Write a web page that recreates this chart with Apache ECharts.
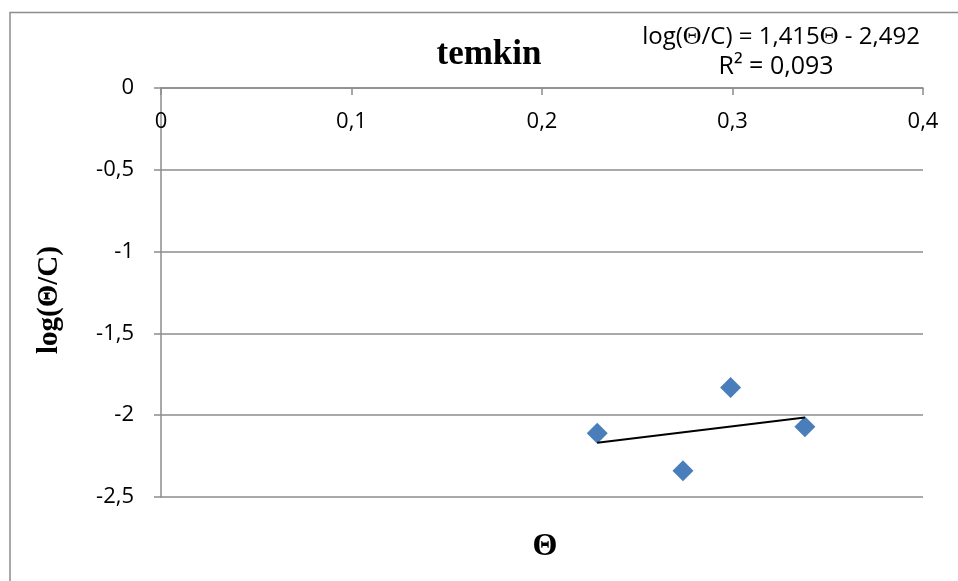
<!DOCTYPE html>
<html>
<head>
<meta charset="utf-8">
<title>temkin</title>
<script src="https://cdn.jsdelivr.net/npm/echarts@6/dist/echarts.min.js"></script>
<style>
  html, body { margin: 0; padding: 0; background: #fff; }
  #chart { width: 958px; height: 581px; }
</style>
</head>
<body>
<div id="chart"></div>
<script>
// 数据点 (Θ, log(Θ/C))
const thetaValues = [0.229, 0.274, 0.299, 0.338]
const logValues = [-2.11, -2.34, -1.83, -2.07]
// 趋势线系数, 取自图上的方程
const trendSlope = 1.415
const trendIntercept = -2.492
const xTicks = [0, 0.1, 0.2, 0.3, 0.4]
const yTicks = [-2.5, -2, -1.5, -1, -0.5, 0]

const gray = '#8c8c8c'
const comma = (v) => String(Number(v.toFixed(2))).replace('.', ',')

const points = thetaValues.map((x, i) => [x, logValues[i]])
const xMin = Math.min(...thetaValues)
const xMax = Math.max(...thetaValues)
const trend = [
  [xMin, trendSlope * xMin + trendIntercept],
  [xMax, trendSlope * xMax + trendIntercept]
]

const myChart = echarts.init(document.getElementById('chart'))

const option = {
  animation: false,
  grid: { left: 161, right: 35, top: 88, bottom: 84 },
  xAxis: {
    type: 'value',
    position: 'top',
    min: xTicks[0],
    max: xTicks[xTicks.length - 1],
    interval: 0.1,
    axisLine: { show: true, onZero: false, lineStyle: { color: gray, width: 1.5 } },
    axisTick: { show: true, inside: true, length: 7, lineStyle: { color: gray, width: 1.5 } },
    axisLabel: {
      inside: true,
      margin: 23,
      fontFamily: 'Open Sans',
      fontSize: 22,
      color: '#000',
      formatter: comma
    },
    splitLine: { show: false }
  },
  yAxis: {
    type: 'value',
    min: yTicks[0],
    max: yTicks[yTicks.length - 1],
    interval: 0.5,
    axisLine: { show: true, onZero: false, lineStyle: { color: gray, width: 1.5 } },
    axisTick: { show: true, length: 7, lineStyle: { color: gray, width: 1.5 } },
    axisLabel: {
      margin: 27,
      fontFamily: 'Open Sans',
      fontSize: 22,
      color: '#000',
      formatter: comma
    },
    splitLine: { show: true, lineStyle: { color: gray, width: 1.5 } }
  },
  series: [
    {
      type: 'scatter',
      symbol: 'diamond',
      symbolSize: 21,
      itemStyle: { color: '#4A7EBB', opacity: 1 },
      data: points,
      z: 3
    },
    {
      type: 'line',
      symbol: 'none',
      lineStyle: { color: '#000', width: 2 },
      data: trend,
      z: 4
    }
  ],
  graphic: [
    // 外框
    {
      type: 'rect',
      shape: { x: 10, y: 12.5, width: 1000, height: 700 },
      style: { fill: 'none', stroke: gray, lineWidth: 1.5 },
      silent: true
    },
    // 标题
    {
      type: 'text',
      x: 489,
      y: 55,
      style: {
        text: 'temkin',
        font: 'bold 35px "Liberation Serif"',
        fill: '#000',
        align: 'center',
        verticalAlign: 'middle'
      }
    },
    // 方程
    {
      type: 'text',
      x: 781,
      y: 37,
      style: {
        text: '{a|log(}{b|Θ}{a|/C) = 1,415}{b|Θ}{a| - 2,492}',
        align: 'center',
        verticalAlign: 'middle',
        rich: {
          a: { fontFamily: 'Open Sans', fontSize: 24, fill: '#000' },
          b: { fontFamily: 'Liberation Serif', fontSize: 26, fill: '#000' }
        }
      }
    },
    {
      type: 'text',
      x: 776,
      y: 67,
      style: {
        text: 'R² = 0,093',
        font: '25px "Open Sans"',
        fill: '#000',
        align: 'center',
        verticalAlign: 'middle'
      }
    },
    // 坐标轴名
    {
      type: 'text',
      x: 50,
      y: 300,
      rotation: Math.PI / 2,
      style: {
        text: 'log(Θ/C)',
        font: 'bold 29px "Liberation Serif"',
        fill: '#000',
        align: 'center',
        verticalAlign: 'middle'
      }
    },
    {
      type: 'text',
      x: 545,
      y: 547,
      style: {
        text: 'Θ',
        font: 'bold 32px "Liberation Serif"',
        fill: '#000',
        align: 'center',
        verticalAlign: 'middle'
      }
    }
  ]
}

myChart.setOption(option)
</script>
</body>
</html>
